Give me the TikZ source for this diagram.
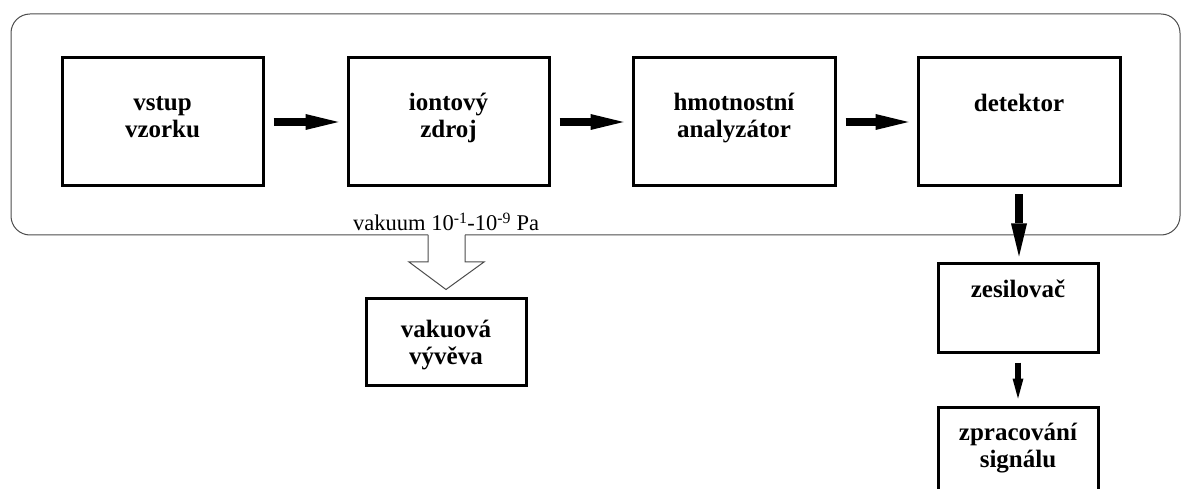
\documentclass[tikz,border=0pt]{standalone}
\usepackage{fontspec}
\setmainfont{Liberation Serif}
\usetikzlibrary{arrows.meta,calc}
\begin{document}
\begin{tikzpicture}[x=1pt,y=-1pt,
  box/.style={draw, line width=3pt, rectangle, inner sep=0pt},
  lbl/.style={font=\bfseries\fontsize{25}{27}\selectfont, align=center, anchor=base, inner sep=0pt},
  flow/.style={line width=8pt, -{Triangle[length=33pt,width=16pt,line width=0pt]}, shorten <=9pt, shorten >=8pt},
  flowsmall/.style={line width=6pt, -{Triangle[length=20pt,width=11pt,line width=0pt]}, shorten <=9pt, shorten >=7pt},
  thin/.style={draw=black!70, line width=1pt}]
\useasboundingbox (0,0) rectangle (1181,489);
\clip (0,0) rectangle (1181,489);

% outer vacuum enclosure (open where the pump arrow leaves)
\draw[thin, rounded corners=19pt] (465,235) -- (1180,235) -- (1180,14) -- (11,14) -- (11,235) -- (428,235);

% boxes
\node[box, minimum width=201pt, minimum height=128pt] (b1) at (162.5,122) {};
\node[box, minimum width=201pt, minimum height=128pt] (b2) at (448.5,122) {};
\node[box, minimum width=202pt, minimum height=128pt] (b3) at (734,122) {};
\node[box, minimum width=202pt, minimum height=128pt] (b4) at (1019,122) {};
\node[box, minimum width=160pt, minimum height=88pt] (b5) at (1018,308) {};
\node[box, minimum width=160pt, minimum height=110pt] (b6) at (1018,462) {};
\node[box, minimum width=160pt, minimum height=87pt] (b7) at (446,341.5) {};

% labels (anchor base = baseline of the last line)
\node[lbl] (t1) at (162.5,138) {vstup\\vzorku};
\node[lbl] (t2) at (448.5,138) {iontový\\zdroj};
\node[lbl] (t3) at (734,138) {hmotnostní\\analyzátor};
\node[lbl] (t4) at (1019,112) {detektor};
\node[lbl] (t5) at (1018,298) {zesilovač};
\node[lbl] (t6) at (1018,467) {zpracování\\signálu};
\node[lbl] (t7) at (446,364) {vakuová\\vývěva};

\node[anchor=base west, inner sep=0pt, font=\fontsize{22.5}{24}\selectfont] (vak) at (353,231)
  {vakuum 10\textsuperscript{-1}-10\textsuperscript{-9} Pa};

% flow arrows
\draw[flow] (b1.east) -- (b2.west);
\draw[flow] (b2.east) -- (b3.west);
\draw[flow] (b3.east) -- (b4.west);
\draw[flow, shorten <=7pt, shorten >=6pt] (b4.south) -- (b4.south |- b5.north);
\draw[flowsmall] (b5.south) -- (b5.south |- b6.north);

% hollow pump arrow
\coordinate (pa) at (446.5,235);
\draw[thin, fill=white] (pa) ++(-18.5,0) -- ++(0,27) -- ++(-19,0)
  -- ([yshift=7pt]b7.north) -- ($(pa)+(37.5,27)$) -- ++(-19,0) -- ($(pa)+(18.5,0)$);
\end{tikzpicture}
\end{document}
